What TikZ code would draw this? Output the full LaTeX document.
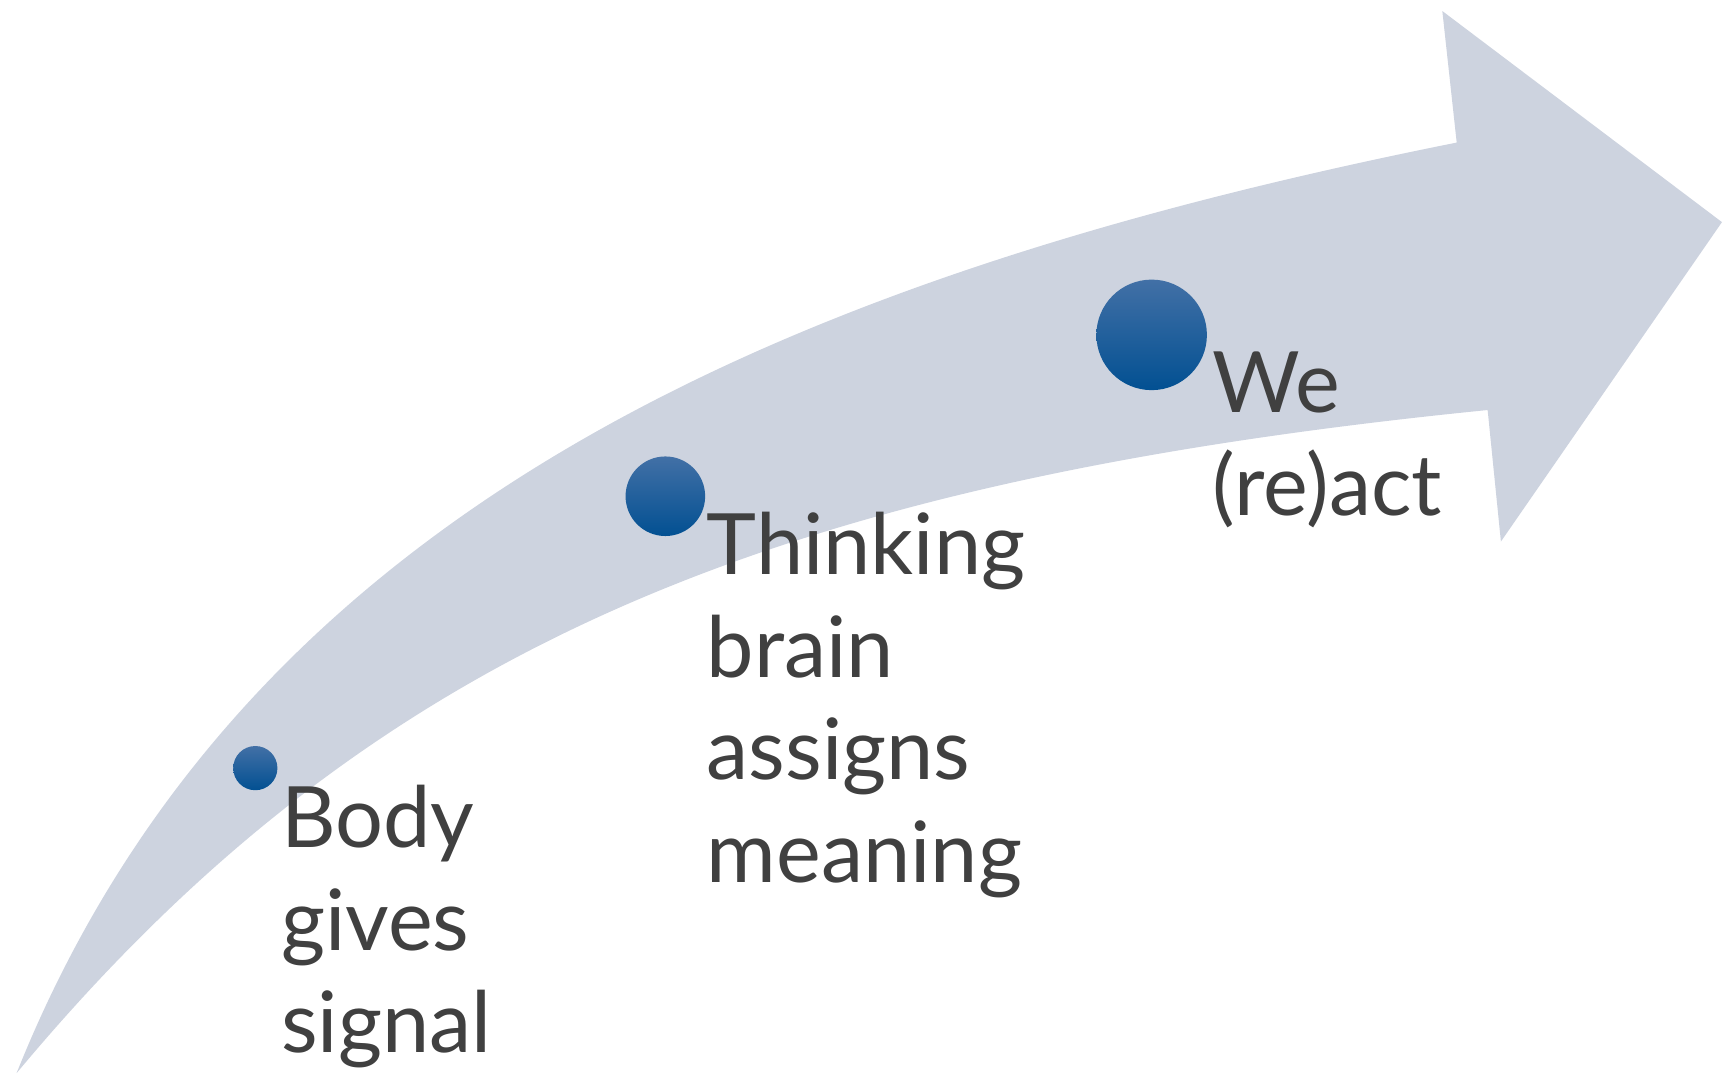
\documentclass[tikz,border=0pt]{standalone}
\usepackage{fontspec}
\setmainfont{Lato}
\usetikzlibrary{positioning}

\definecolor{bandgray}{RGB}{205,211,223}
\definecolor{dottop}{RGB}{66,112,166}
\definecolor{dotmid}{RGB}{0,86,157}
\definecolor{dotbot}{RGB}{2,80,146}
\definecolor{textgray}{RGB}{64,64,64}

\tikzset{
  band/.style={fill=bandgray},
  dot/.style={circle, inner sep=0pt, top color=dottop, middle color=dotmid, bottom color=dotbot},
  steptext/.style={align=left, inner sep=0pt, text=textgray,
    font=\fontsize{21.8pt}{26.4pt}\selectfont}
}

\begin{document}
\begin{tikzpicture}[x=0.1mm, y=-0.1mm]
    \useasboundingbox (0,0) rectangle (1568,973);
    % curved arrow
    \fill [band] (15,971) .. controls (220,458) and (718,249) .. (1318,129)
        -- (1305,10) -- (1558,201) -- (1358,490) -- (1346,371)
        .. controls (696,436) and (335,587) .. (15,971) -- cycle;
    % dots along the arrow
    \node [dot, minimum size=4mm] (body) at (231,695) {};
    \node [dot, minimum size=7.2mm] (brain) at (602,449) {};
    \node [dot, minimum size=10mm] (react) at (1042,303) {};
    % labels
    \node [steptext, below right=1.5mm and 0.2mm of body.east] (bodytext) {Body\\gives\\signal};
    \node [steptext, below right=1.4mm and 0mm of brain.east] (braintext) {Thinking\\brain\\assigns\\meaning};
    \node [steptext, below right=1.5mm and 0.4mm of react.east] (reacttext) {We\\(re)act};
\end{tikzpicture}
\end{document}
